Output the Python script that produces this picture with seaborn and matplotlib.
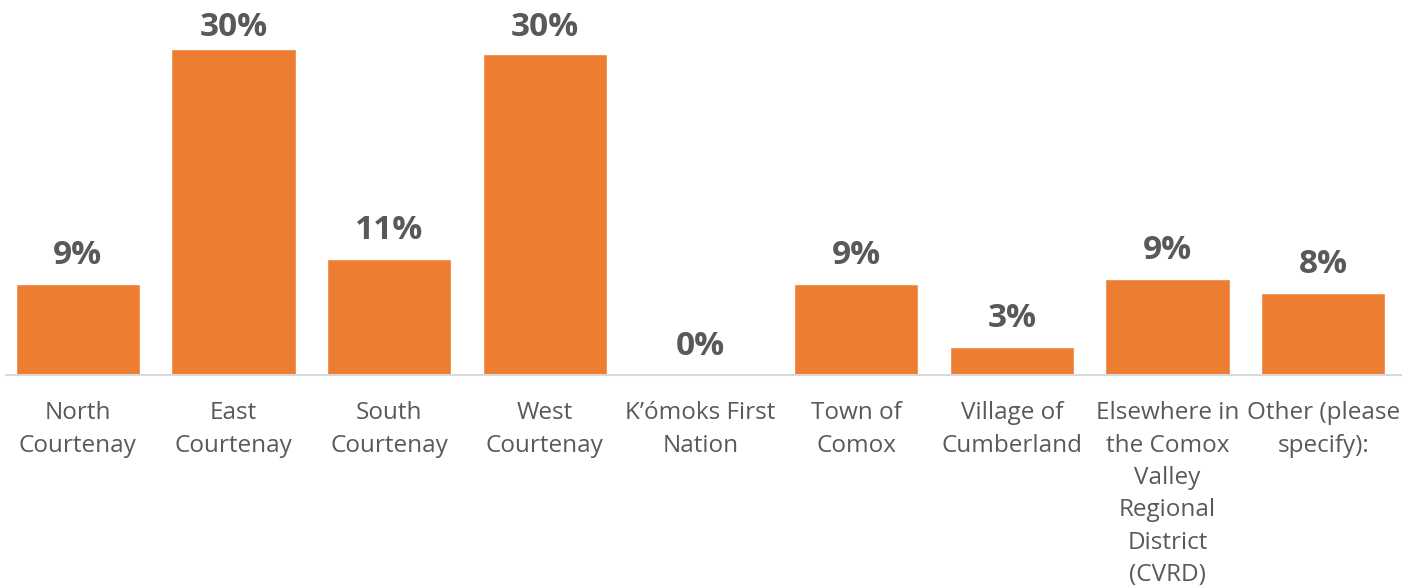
import pandas as pd
import seaborn as sns
import matplotlib.pyplot as plt

categories = ["North\nCourtenay", "East\nCourtenay", "South\nCourtenay", "West\nCourtenay",
              "K\u2019ómoks First\nNation", "Town of\nComox", "Village of\nCumberland",
              "Elsewhere in\nthe Comox\nValley\nRegional\nDistrict\n(CVRD)", "Other (please\nspecify):"]
values = [8.4, 30.0, 10.7, 29.5, 0.0, 8.4, 2.6, 8.8, 7.5]
labels = ["9%", "30%", "11%", "30%", "0%", "9%", "3%", "9%", "8%"]

df = pd.DataFrame({"area": categories, "pct": values})

sns.set_style("white")
plt.rcParams["font.family"] = ["Open Sans", "DejaVu Sans"]

fig = plt.figure(figsize=(14.18, 5.88), dpi=100)
ax = fig.add_axes([0, 213 / 588, 1401 / 1418, 375 / 588])

sns.barplot(data=df, x="area", y="pct", color="#ED7D31", saturation=1, width=0.8, ax=ax)

# labels sit above the bars, but the tall ones get pushed down to fit
for i, (v, lab) in enumerate(zip(values, labels)):
    ax.text(i, min(v + 1.85, 31.2), lab, ha="center", va="baseline",
            fontsize=24, fontweight="bold", color="#595959")

ax.set_xlim(-0.5, 8.5)
ax.set_ylim(0, 34.5)
ax.set_xlabel("")
ax.set_ylabel("")
ax.set_yticks([])
for s in ["top", "right", "left"]:
    ax.spines[s].set_visible(False)
ax.spines["bottom"].set_color("#D9D9D9")
ax.spines["bottom"].set_linewidth(1.5)
ax.spines["bottom"].set_bounds(-0.46, 8.5)

ax.set_xticks(range(len(categories)))
ax.set_xticklabels(categories, fontsize=17.5, color="#595959", linespacing=1.46)
ax.tick_params(axis="x", which="major", length=0, pad=19)
ax.set_xticks([i + 0.5 for i in range(len(categories))], minor=True)
ax.tick_params(axis="x", which="minor", length=5, width=1.5, color="#D9D9D9")

fig.savefig("out.png", dpi=100)
